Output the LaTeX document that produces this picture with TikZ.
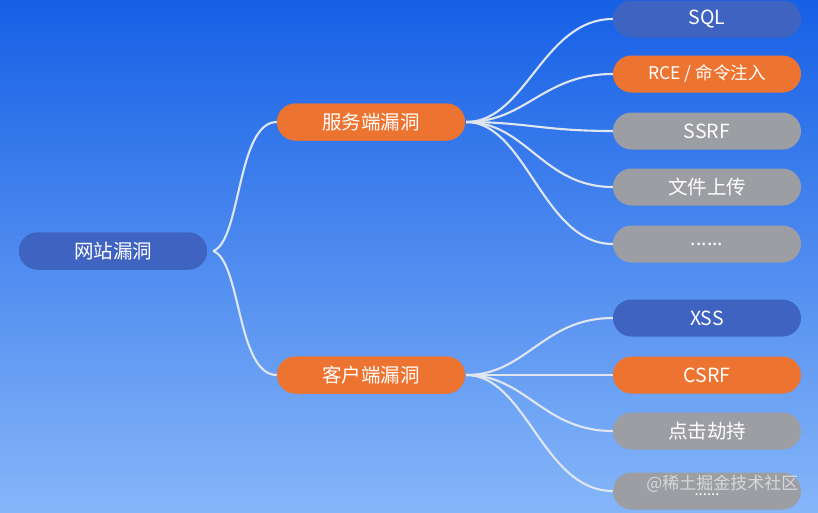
\documentclass[tikz,border=0pt]{standalone}
\usepackage{fontspec}
\setmainfont{Noto Sans CJK SC}
\usetikzlibrary{shapes.misc}
\definecolor{bgtop}{HTML}{1660E6}
\definecolor{bgbot}{HTML}{86B6F9}
\definecolor{nblue}{HTML}{3F63C0}
\definecolor{norange}{HTML}{EC7430}
\definecolor{ngray}{HTML}{9C9EA3}
\definecolor{lnk}{HTML}{E0E6F0}
\tikzset{
  pill/.style={rounded rectangle, minimum width=188pt, minimum height=37pt, inner sep=0pt,
    text=white, font=\fontsize{19.5}{21}\selectfont},
  pblue/.style={pill, fill=nblue},
  porange/.style={pill, fill=norange},
  pgray/.style={pill, fill=ngray},
  link/.style={draw=lnk, line width=2.1pt},
}
\begin{document}
\begin{tikzpicture}[x=1pt,y=-1pt]
\shade[top color=bgtop, bottom color=bgbot] (0,0) rectangle (818,512);
\useasboundingbox (0,0) rectangle (818,512);
% root and branches
\node[pblue] (root) at (113,251) {网站漏洞};
\node[porange] (srv) at (371,122) {服务端漏洞};
\node[porange] (cli) at (371,375) {客户端漏洞};
% leaves
\node[pblue]   (sql)  at (707,19)  {SQL};
\node[porange] (rce)  at (707,74)  {\fontsize{17.5}{19}\selectfont RCE / 命令注入};
\node[pgray]   (ssrf) at (707,131) {SSRF};
\node[pgray]   (up)   at (707,187) {文件上传};
\node[pgray]   (m1)   at (707,244) {......};
\node[pblue]   (xss)  at (707,318) {XSS};
\node[porange] (csrf) at (707,375) {CSRF};
\node[pgray]   (click) at (707,431) {点击劫持};
\node[pgray]   (m2)   at (707,491) {\raisebox{-10pt}{\fontsize{15}{17}\selectfont ......}};
% anchors
\coordinate (r0) at ([xshift=6pt]root.east);
\coordinate (s0) at ([xshift=1pt]srv.east);
\coordinate (c0) at ([xshift=1pt]cli.east);
% root links
\draw[link] (r0) .. controls +(28,-10) and +(-40,0) .. (srv.west);
\draw[link] (r0) .. controls +(28,10) and +(-40,0) .. (cli.west);
% server links
\foreach \t in {sql,rce,ssrf,up,m1}
  \draw[link] (s0) .. controls +(60,0) and +(-70,0) .. (\t.west);
% client links
\foreach \t in {xss,csrf,click,m2}
  \draw[link] (c0) .. controls +(60,0) and +(-70,0) .. (\t.west);
% redraw nodes over line ends
\node[pblue] at (root) {网站漏洞};
\node[porange] at (srv) {服务端漏洞};
\node[porange] at (cli) {客户端漏洞};
% watermark
\node[text=white, opacity=0.6, font=\fontsize{17}{19}\selectfont, anchor=east] (wm) at (802,484) {@稀土掘金技术社区};
\end{tikzpicture}
\end{document}
